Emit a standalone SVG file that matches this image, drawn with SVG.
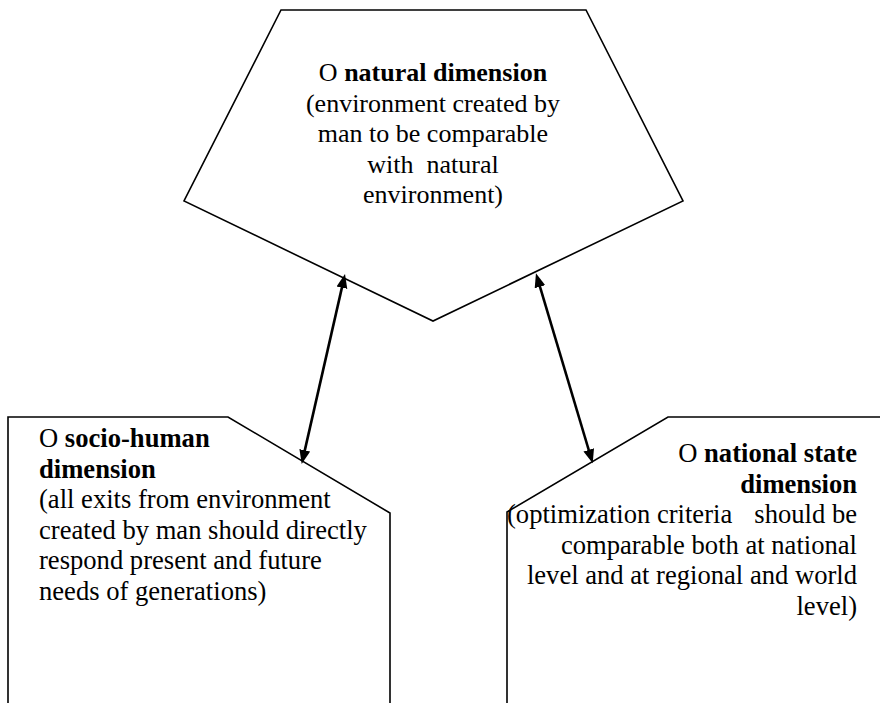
<svg xmlns="http://www.w3.org/2000/svg" width="880" height="703" viewBox="0 0 880 703">
<style>
.shape{fill:#ffffff;stroke:#000000;stroke-width:1.6;stroke-linejoin:miter}
.t{font-family:"Liberation Serif","Times New Roman",serif;font-size:26px;fill:#000000;white-space:pre}
.bt{font-size:26.6px}
.b{font-weight:bold}
.conn{stroke:#000000;stroke-width:2.6;fill:none}
</style>
<defs>
<marker id="ah" markerUnits="userSpaceOnUse" markerWidth="16" markerHeight="13" refX="9" refY="6" orient="auto-start-reverse" viewBox="0 0 16 13">
<path d="M0,0.5 L14,6 L0,11.5 z" fill="#000000"/>
</marker>
</defs>
<rect x="0" y="0" width="880" height="703" fill="#ffffff"/>
<g id="node-natural">
<polygon class="shape" points="281,10 586,10 683,201 433,321 184,201"/>
<text class="t" text-anchor="middle" xml:space="preserve"><tspan x="433" y="81">O <tspan class="b">natural dimension</tspan></tspan><tspan x="433" y="111.5">(environment created by</tspan><tspan x="433" y="142">man to be comparable</tspan><tspan x="433" y="172.5">with  natural</tspan><tspan x="433" y="203">environment)</tspan></text>
</g>
<g id="node-socio-human">
<path class="shape" d="M8,703 L8,417 L228,417 L390,513 L390,703"/>
<text class="t bt" xml:space="preserve"><tspan x="39" y="447">O <tspan class="b">socio-human</tspan></tspan><tspan x="39" y="477.5" class="b">dimension</tspan><tspan x="39" y="508">(all exits from environment</tspan><tspan x="39" y="538.5">created by man should directly</tspan><tspan x="39" y="569">respond present and future</tspan><tspan x="39" y="599.5">needs of generations)</tspan></text>
</g>
<g id="node-national-state">
<path class="shape" d="M507,703 L507,512 L668,417 L881,417"/>
<text class="t bt" text-anchor="end" xml:space="preserve"><tspan x="857" y="462">O <tspan class="b">national state</tspan></tspan><tspan x="857" y="492.5" class="b">dimension</tspan><tspan x="507" y="523" text-anchor="start">(optimization criteria</tspan><tspan x="857" y="523">should be</tspan><tspan x="857" y="553.5">comparable both at national</tspan><tspan x="857" y="584">level and at regional and world</tspan><tspan x="857" y="614.5">level)</tspan></text>
</g>
<g id="connectors">
<line class="conn" x1="302.8" y1="459.1" x2="343.9" y2="278.9" marker-start="url(#ah)" marker-end="url(#ah)"/>
<line class="conn" x1="591.3" y1="458.5" x2="537.4" y2="278.1" marker-start="url(#ah)" marker-end="url(#ah)"/>
</g>
</svg>
